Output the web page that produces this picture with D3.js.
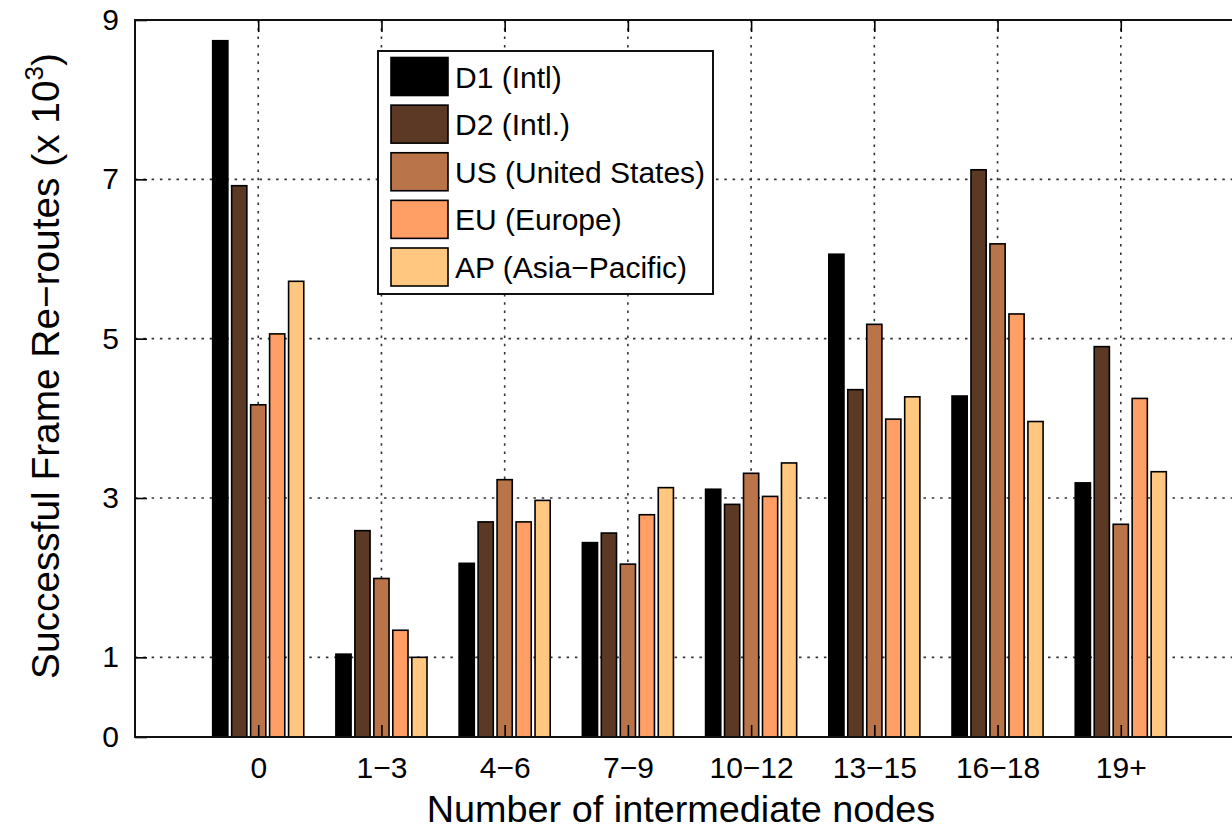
<!DOCTYPE html>
<html>
<head>
<meta charset="utf-8">
<script src="https://cdn.jsdelivr.net/npm/d3@7"></script>
<style>
  html, body { margin: 0; padding: 0; background: #fff; }
  svg { display: block; font-family: "Liberation Sans", Arial, sans-serif; }
</style>
</head>
<body>
<svg id="chart" width="1232" height="830"></svg>
<script>
// ---- data ----
const categories = ["0", "1\u22123", "4\u22126", "7\u22129", "10\u221212", "13\u221215", "16\u221218", "19+"];
const seriesNames = ["D1 (Intl)", "D2 (Intl.)", "US (United States)", "EU (Europe)", "AP (Asia\u2212Pacific)"];
const seriesColors = ["#000000", "#5c3925", "#b9744a", "#ff9f65", "#ffc77f"];
const d1 = [8.74, 1.04, 2.18, 2.44, 3.11, 6.06, 4.28, 3.19];
const d2 = [6.92, 2.59, 2.70, 2.56, 2.92, 4.36, 7.12, 4.90];
const us = [4.17, 1.99, 3.23, 2.17, 3.31, 5.18, 6.19, 2.67];
const eu = [5.06, 1.34, 2.70, 2.79, 3.02, 3.99, 5.31, 4.25];
const ap = [5.72, 1.00, 2.97, 3.13, 3.44, 4.27, 3.96, 3.33];
const yTicks = [0, 1, 3, 5, 7, 9];
const xLabel = "Number of intermediate nodes";
const yLabelMain = "Successful Frame Re\u2212routes (x 10";
const yLabelSup = "3";

const seriesValues = [d1, d2, us, eu, ap];

(function () {
// ---- layout ----
const svg = d3.select("#chart");
const mLeft = 135, mTop = 20, mBottom = 737, mRight = 1244;

const x = d3.scaleLinear().domain([-1, categories.length]).range([mLeft, mRight]);
const y = d3.scaleLinear().domain([0, 9]).range([mBottom, mTop]);
const step = x(1) - x(0);
const groupW = step * 0.77;
const inner = d3.scaleBand().domain(d3.range(seriesNames.length))
  .range([-groupW / 2, groupW / 2]).paddingInner(0.2).paddingOuter(0.1);

// ---- grid ----
const grid = svg.append("g").attr("stroke", "#333").attr("stroke-width", 1.6)
  .attr("stroke-dasharray", "2.5,5.8");
grid.selectAll("line.h").data(yTicks.filter(t => t > 0 && t < 9)).enter().append("line")
  .attr("class", "h")
  .attr("x1", mLeft).attr("x2", mRight).attr("y1", d => y(d)).attr("y2", d => y(d));
grid.selectAll("line.v").data(d3.range(categories.length)).enter().append("line")
  .attr("class", "v")
  .attr("y1", mTop).attr("y2", mBottom).attr("x1", d => x(d)).attr("x2", d => x(d));

// ---- bars ----
const barData = [];
categories.forEach((c, i) => {
  seriesValues.forEach((vals, j) => barData.push({ i, j, v: vals[i] }));
});
svg.append("g").selectAll("rect").data(barData).enter().append("rect")
  .attr("x", d => x(d.i) + inner(d.j))
  .attr("width", inner.bandwidth())
  .attr("y", d => y(d.v))
  .attr("height", d => y(0) - y(d.v))
  .attr("fill", d => seriesColors[d.j])
  .attr("stroke", "#000")
  .attr("stroke-width", 1.6);

// ---- axes ----
const tickLen = 12;
const yAxis = d3.axisLeft(y).tickValues(yTicks).tickSize(-tickLen).tickPadding(16)
  .tickFormat(d3.format("d"));
const gy = svg.append("g").attr("transform", `translate(${mLeft},0)`).call(yAxis);
gy.select(".domain").remove();
gy.selectAll("line").attr("stroke", "#000").attr("stroke-width", 1.6);
gy.selectAll("text").attr("font-size", 30).attr("fill", "#000")
  .attr("font-family", "Liberation Sans, Arial, sans-serif");

const xAxis = d3.axisBottom(x).tickValues(d3.range(categories.length))
  .tickFormat(i => categories[i]).tickSize(-tickLen).tickPadding(20);
const gx = svg.append("g").attr("transform", `translate(0,${mBottom})`).call(xAxis);
gx.select(".domain").remove();
gx.selectAll("line").attr("stroke", "#000").attr("stroke-width", 1.6);
gx.selectAll("text").attr("font-size", 30).attr("fill", "#000")
  .attr("font-family", "Liberation Sans, Arial, sans-serif");

// top ticks
const xTop = d3.axisTop(x).tickValues(d3.range(categories.length)).tickSize(-tickLen).tickFormat("");
const gt = svg.append("g").attr("transform", `translate(0,${mTop})`).call(xTop);
gt.select(".domain").remove();
gt.selectAll("line").attr("stroke", "#000").attr("stroke-width", 1.6);

// box
svg.append("path")
  .attr("d", `M${mRight},${mTop}H${mLeft}V${mBottom}H${mRight}`)
  .attr("fill", "none").attr("stroke", "#111").attr("stroke-width", 2);

// ---- labels ----
svg.append("text").attr("x", 681).attr("y", 822).attr("text-anchor", "middle")
  .attr("font-size", 37.8).attr("fill", "#000").text(xLabel);

const yl = svg.append("text").attr("transform", `translate(59,366) rotate(-90)`)
  .attr("text-anchor", "middle").attr("font-size", 38.8).attr("fill", "#000");
yl.append("tspan").text(yLabelMain);
yl.append("tspan").attr("font-size", 26).attr("dy", -16).text(yLabelSup);
yl.append("tspan").attr("dy", 16).text(")");

// ---- legend ----
const lg = svg.append("g");
lg.append("rect").attr("x", 378).attr("y", 51).attr("width", 335).attr("height", 243)
  .attr("fill", "#fff").attr("stroke", "#111").attr("stroke-width", 2);
const rowY = d3.scaleLinear().domain([0, 4]).range([76.5, 267]);
const rows = lg.selectAll("g.row").data(seriesNames).enter().append("g")
  .attr("class", "row")
  .attr("transform", (d, i) => `translate(0,${rowY(i)})`);
rows.append("rect").attr("x", 391).attr("y", -19).attr("width", 57).attr("height", 38)
  .attr("fill", (d, i) => seriesColors[i]).attr("stroke", "#000").attr("stroke-width", 1.6);
rows.append("text").attr("x", 455).attr("y", 11).attr("font-size", 30).attr("fill", "#000")
  .text(d => d);
})();
</script>
</body>
</html>
